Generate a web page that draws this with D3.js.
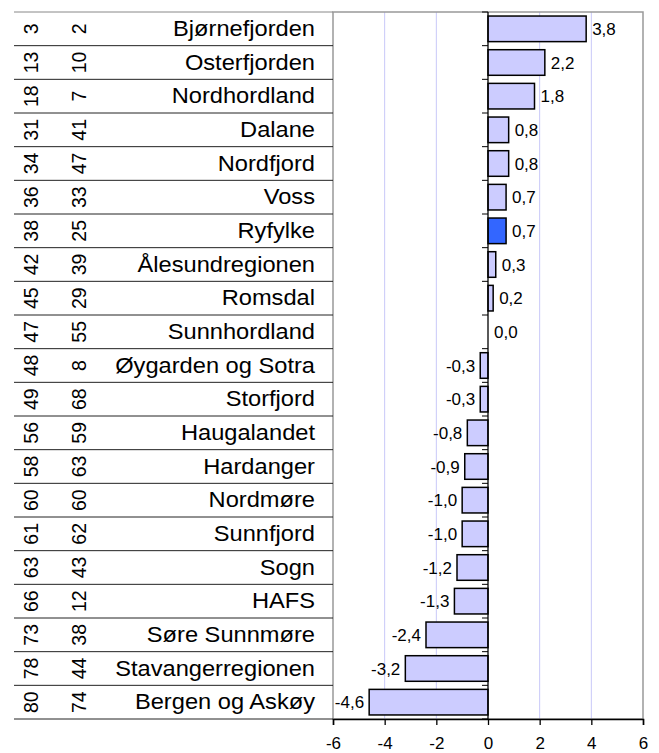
<!DOCTYPE html>
<html>
<head>
<meta charset="utf-8">
<script src="https://cdn.jsdelivr.net/npm/d3@7"></script>
<style>
  body { margin: 0; background: #fff; }
  text { font-family: "Liberation Sans", Arial, sans-serif; fill: #000; }
</style>
</head>
<body>
<svg id="chart" width="659" height="753"></svg>
<script>
var regions = ["Bjørnefjorden", "Osterfjorden", "Nordhordland", "Dalane", "Nordfjord", "Voss",
    "Ryfylke", "Ålesundregionen", "Romsdal", "Sunnhordland", "Øygarden og Sotra", "Storfjord",
    "Haugalandet", "Hardanger", "Nordmøre", "Sunnfjord", "Sogn", "HAFS", "Søre Sunnmøre",
    "Stavangerregionen", "Bergen og Askøy"];
var values = [3.8, 2.2, 1.8, 0.8, 0.8, 0.7, 0.7, 0.3, 0.2, 0.0, -0.3, -0.3, -0.8, -0.9,
    -1.0, -1.0, -1.2, -1.3, -2.4, -3.2, -4.6];
var rankA = [3, 13, 18, 31, 34, 36, 38, 42, 45, 47, 48, 49, 56, 58, 60, 61, 63, 66, 73, 78, 80];
var rankB = [2, 10, 7, 41, 47, 33, 25, 39, 29, 55, 8, 68, 59, 63, 60, 62, 43, 12, 38, 44, 74];
var highlight = "Ryfylke";
var xTicks = [-6, -4, -2, 0, 2, 4, 6];

var plot = { left: 333, right: 643, top: 12, bottom: 719 };
var tableLeft = 14;

var svg = d3.select("svg#chart");

var x = d3.scaleLinear()
    .domain([-6, 6])
    .range([plot.left, plot.right]);

var y = d3.scaleBand()
    .domain(regions)
    .range([plot.top, plot.bottom])
    .paddingInner(0.24)
    .paddingOuter(0.12);

var rowY = d3.scaleBand()
    .domain(regions)
    .range([plot.top, plot.bottom]);

var fmt = function(v) { return v.toFixed(1).replace(".", ","); };

// gridlines
svg.append("g")
    .selectAll("line")
    .data([-4, -2, 2, 4])
    .enter()
    .append("line")
    .attr("x1", d => x(d)).attr("x2", d => x(d))
    .attr("y1", plot.top).attr("y2", plot.bottom)
    .attr("stroke", "#c8c8f8")
    .attr("stroke-width", 1);

// plot border
svg.append("rect")
    .attr("x", plot.left).attr("y", plot.top)
    .attr("width", plot.right - plot.left)
    .attr("height", plot.bottom - plot.top)
    .attr("fill", "none")
    .attr("stroke", "#999")
    .attr("stroke-width", 1.5);

// table lines
var boundaries = regions.map(d => rowY(d)).concat([plot.bottom]);
svg.append("g")
    .selectAll("line")
    .data(boundaries)
    .enter()
    .append("line")
    .attr("x1", tableLeft).attr("x2", plot.left)
    .attr("y1", d => d).attr("y2", d => d)
    .attr("stroke", (d, i) => i == 0 ? "#888" : "#222")
    .attr("stroke-width", 1);

// rank columns (rotated)
svg.append("g")
    .selectAll("text")
    .data(rankA)
    .enter()
    .append("text")
    .attr("transform", (d, i) => "translate(37.5," + (rowY(regions[i]) + rowY.bandwidth() / 2) + ") rotate(-90)")
    .style("text-anchor", "middle")
    .style("font-size", "19.5px")
    .text(d => d);

svg.append("g")
    .selectAll("text")
    .data(rankB)
    .enter()
    .append("text")
    .attr("transform", (d, i) => "translate(85.5," + (rowY(regions[i]) + rowY.bandwidth() / 2) + ") rotate(-90)")
    .style("text-anchor", "middle")
    .style("font-size", "19.5px")
    .text(d => d);

// region names
svg.append("g")
    .selectAll("text")
    .data(regions)
    .enter()
    .append("text")
    .attr("transform", d => "translate(315," + (rowY(d) + rowY.bandwidth() / 2) + ") scale(1.1,1)")
    .attr("dy", "0.34em")
    .style("text-anchor", "end")
    .style("font-size", "21.5px")
    .text(d => d);

// bars
var data = regions.map((d, i) => ({ name: d, value: values[i] }));

svg.append("g")
    .selectAll("rect")
    .data(data.filter(d => d.value != 0))
    .enter()
    .append("rect")
    .attr("x", d => x(Math.min(0, d.value)))
    .attr("y", d => y(d.name))
    .attr("width", d => Math.abs(x(d.value) - x(0)))
    .attr("height", y.bandwidth())
    .attr("fill", d => d.name == highlight ? "#3366ff" : "#ccccff")
    .attr("stroke", "#000")
    .attr("stroke-width", 1.5);

// zero axis with category ticks
svg.append("line")
    .attr("x1", x(0)).attr("x2", x(0))
    .attr("y1", plot.top).attr("y2", plot.bottom)
    .attr("stroke", "#000")
    .attr("stroke-width", 1.3);

svg.append("g")
    .selectAll("line")
    .data(boundaries)
    .enter()
    .append("line")
    .attr("x1", x(0) - 6).attr("x2", x(0))
    .attr("y1", d => d).attr("y2", d => d)
    .attr("stroke", "#000")
    .attr("stroke-width", 1);

// value labels
svg.append("g")
    .selectAll("text")
    .data(data)
    .enter()
    .append("text")
    .attr("x", d => d.value < 0 ? x(d.value) - 5 : x(d.value) + 6)
    .attr("y", d => rowY(d.name) + rowY.bandwidth() / 2)
    .attr("dy", "0.36em")
    .style("text-anchor", d => d.value < 0 ? "end" : "start")
    .style("font-size", "17px")
    .text(d => fmt(d.value));

// bottom axis
var xAxis = svg.append("g")
    .attr("transform", "translate(0," + plot.bottom + ")")
    .call(d3.axisBottom(x).tickValues(xTicks).tickSize(6).tickPadding(12).tickFormat(d => d));

xAxis.select(".domain").attr("stroke", "#000").attr("stroke-width", 1.5);
xAxis.selectAll(".tick line").attr("stroke", "#000").attr("stroke-width", 1.3);
xAxis.selectAll(".tick text")
    .style("font-family", "\"Liberation Sans\", Arial, sans-serif")
    .style("font-size", "17px")
    .attr("fill", "#000");
</script>
</body>
</html>
